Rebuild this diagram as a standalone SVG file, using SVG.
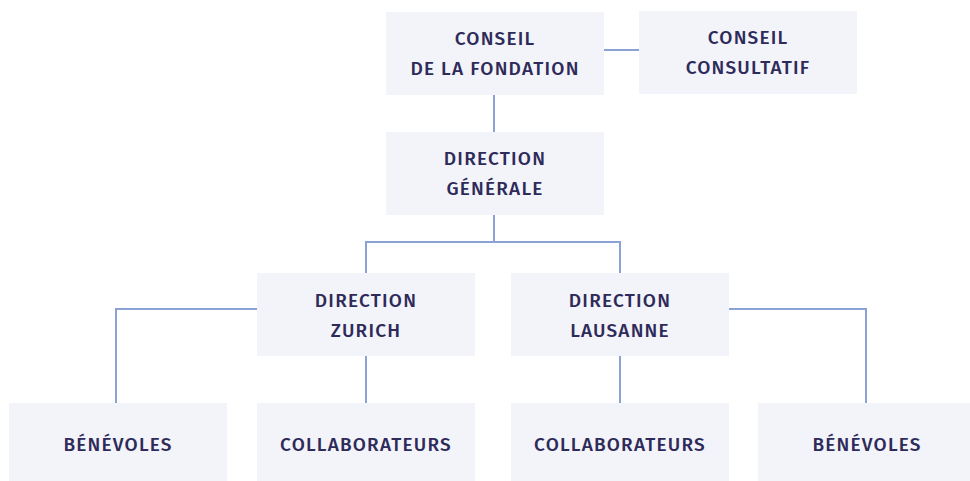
<svg xmlns="http://www.w3.org/2000/svg" width="970" height="481" viewBox="0 0 970 481">
<style>
.box{fill:#f3f4f9}
.t{font-family:"Fira Sans","Open Sans","Noto Sans",sans-serif;font-weight:500;font-size:19px;letter-spacing:1.2px;fill:#2e2b5a;text-anchor:middle}
.c{fill:none;stroke:#8aa2d6;stroke-width:2}
</style>
<rect width="970" height="481" fill="#ffffff"/>
<g id="connectors">
<path class="c" d="M604 50H639"/>
<path class="c" d="M494 95V132"/>
<path class="c" d="M494 215V242M366 273V242H620V273"/>
<path class="c" d="M257 309H116V403"/>
<path class="c" d="M366 356V403"/>
<path class="c" d="M620 356V403"/>
<path class="c" d="M729 309H866V403"/>
</g>
<g id="conseil-fondation"><rect class="box" x="386" y="12" width="218" height="83"/><text class="t" x="495" y="45">CONSEIL</text><text class="t" x="495" y="75">DE LA FONDATION</text></g>
<g id="conseil-consultatif"><rect class="box" x="639" y="11" width="218" height="83"/><text class="t" x="748" y="44">CONSEIL</text><text class="t" x="748" y="74">CONSULTATIF</text></g>
<g id="direction-generale"><rect class="box" x="386" y="132" width="218" height="83"/><text class="t" x="495" y="165">DIRECTION</text><text class="t" x="495" y="195">GÉNÉRALE</text></g>
<g id="direction-zurich"><rect class="box" x="257" y="273" width="218" height="83"/><text class="t" x="366" y="307">DIRECTION</text><text class="t" x="366" y="337">ZURICH</text></g>
<g id="direction-lausanne"><rect class="box" x="511" y="273" width="218" height="83"/><text class="t" x="620" y="307">DIRECTION</text><text class="t" x="620" y="337">LAUSANNE</text></g>
<g id="benevoles-zurich"><rect class="box" x="9" y="403" width="218" height="83"/><text class="t" x="118" y="451">BÉNÉVOLES</text></g>
<g id="collaborateurs-zurich"><rect class="box" x="257" y="403" width="218" height="83"/><text class="t" x="366" y="451">COLLABORATEURS</text></g>
<g id="collaborateurs-lausanne"><rect class="box" x="511" y="403" width="218" height="83"/><text class="t" x="620" y="451">COLLABORATEURS</text></g>
<g id="benevoles-lausanne"><rect class="box" x="758" y="403" width="218" height="83"/><text class="t" x="867" y="451">BÉNÉVOLES</text></g>
</svg>
